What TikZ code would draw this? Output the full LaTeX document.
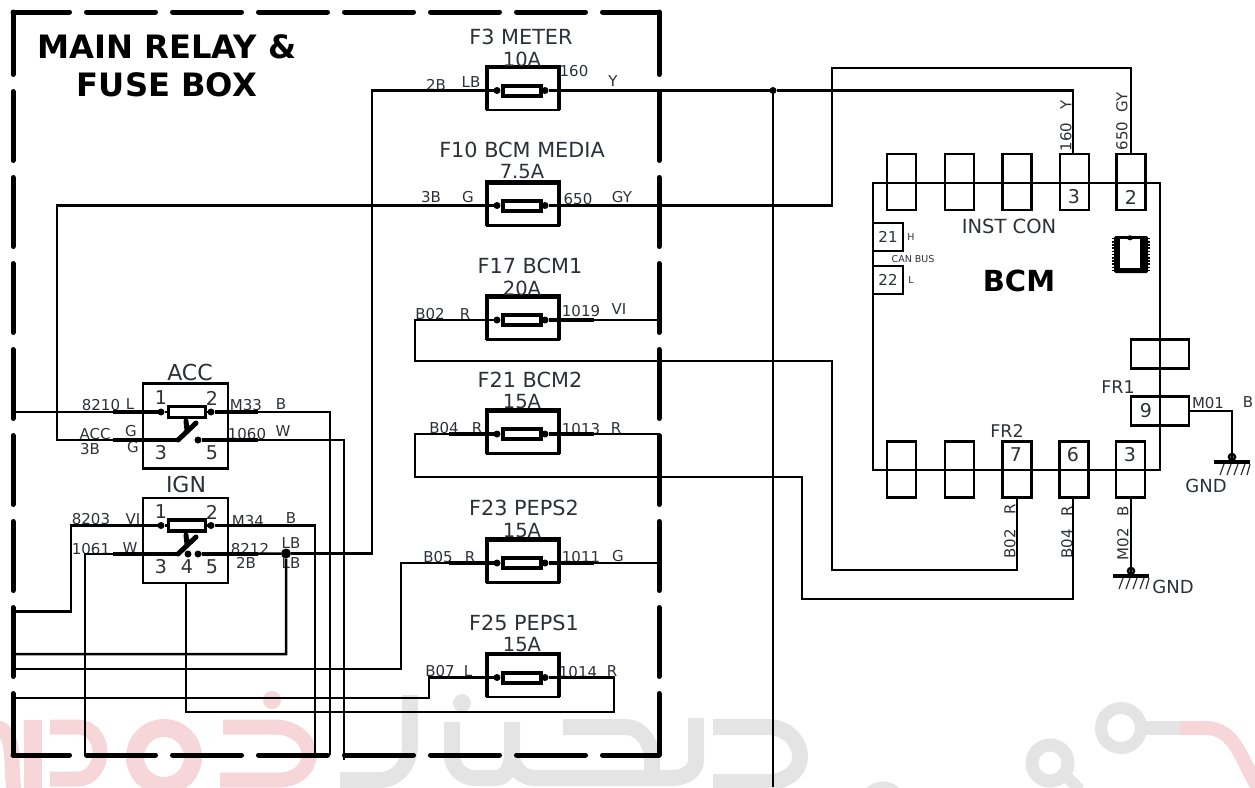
\documentclass[tikz,border=0pt]{standalone}
\usepackage{xcolor}
\usepackage{fontspec}
\setmainfont{DejaVu Sans}
\usetikzlibrary{arrows.meta, positioning, calc}
\definecolor{inkcolor}{RGB}{45, 48, 56}
\definecolor{markpink}{RGB}{246, 214, 217}
\definecolor{markgrey}{RGB}{228, 228, 228}

\begin{document}
\begin{tikzpicture}[
    x=1pt, y=-1pt,
    wire/.style={line width=2.5pt, line join=miter},
    stub/.style={line width=3.8pt},
    blade/.style={line width=5pt, line cap=round},
    borderline/.style={line width=5pt, dash pattern=on 69pt off 17pt, line cap=round},
    fusebox/.style={draw, line width=2.5pt, minimum width=72pt, minimum height=43pt, inner sep=0pt, outer sep=0pt},
    fuseedge/.style={line width=4.5pt},
    fuselink/.style={draw, line width=4pt, fill=white, minimum width=38pt, minimum height=10pt, inner sep=0pt, outer sep=0pt},
    relaybox/.style={draw, line width=2.5pt, minimum width=85pt, minimum height=85pt, inner sep=0pt, outer sep=0pt},
    relaylink/.style={draw, line width=3.5pt, fill=white, minimum width=37pt, minimum height=11pt, inner sep=0pt, outer sep=0pt},
    pin/.style={circle, fill=black, inner sep=0pt, minimum size=7pt, outer sep=0pt},
    tabbox/.style={draw, line width=2.5pt, minimum width=29pt, minimum height=56pt, inner sep=0pt, outer sep=0pt},
    sidetab/.style={draw, line width=2.5pt, minimum width=58pt, minimum height=29pt, inner sep=0pt, outer sep=0pt},
    smalltab/.style={draw, line width=2.5pt, minimum width=30pt, minimum height=28pt, inner sep=0pt, outer sep=0pt, text=inkcolor, font=\fontsize{15}{17}\selectfont},
    fusetitle/.style={text=inkcolor, inner sep=0pt, font=\fontsize{20.8}{24}\selectfont},
    ampere/.style={text=inkcolor, inner sep=0pt, font=\fontsize{19.5}{24}\selectfont},
    relaytitle/.style={text=inkcolor, inner sep=0pt, font=\fontsize{22}{24}\selectfont},
    digit/.style={text=inkcolor, inner sep=0pt, font=\fontsize{19}{22}\selectfont},
    tag/.style={text=inkcolor, inner sep=0pt, font=\fontsize{15}{17}\selectfont},
    sidetag/.style={tag, rotate=90},
    tiny tag/.style={text=inkcolor, inner sep=0pt, font=\fontsize{9.5}{11}\selectfont},
    heading/.style={inner sep=0pt, font=\bfseries\fontsize{32.2}{38}\selectfont},
    pinkmark/.style={markpink, line width=15pt},
    greymark/.style={markgrey, line width=16pt},
    gnd/.pic={
        \draw[line width=2.5pt] (0,-5) circle (3pt);
        \draw[line width=4pt] (-18,0) -- (18,0);
        \draw[line width=1.2pt, inkcolor] (-8,2) -- (-12,13) (-1,2) -- (-5,13) (6,2) -- (2,13) (13,2) -- (9,13) (18,2) -- (15,13);
    }
]
    \useasboundingbox (0,0) rectangle (1255,787);

    % Watermark
    \draw[pinkmark] (-8,727) to[out=0, in=100] (14,790);
    \draw[pinkmark, line width=18pt] (33,720) -- (33,790);
    \draw[pinkmark] (50,727) -- (78,727) to[out=0, in=90] (100,752) to[out=-90, in=0] (78,779) -- (50,779);
    \draw[pinkmark, line width=18pt] (164,757) circle (29pt);
    \draw[pinkmark] (223,727) -- (275,727) to[out=0, in=90] (309,755) to[out=-90, in=0] (280,780) -- (220,780);
    \fill[markpink] (272,700) circle (9pt);
    \draw[greymark] (340,780) -- (380,780) to[out=0, in=-90] (410,745) -- (410,695);
    \fill[markgrey] (462,703) circle (9pt);
    \draw[greymark] (452,722) -- (452,755) to[out=-90, in=180] (475,778) -- (495,778) to[out=0, in=-90] (512,755) -- (512,722);
    \draw[greymark] (512,755) to[out=-90, in=180] (535,778) -- (650,778);
    \draw[greymark] (563,727) -- (625,727) to[out=0, in=90] (652,760) -- (652,778);
    \draw[greymark] (696,718) -- (696,760) to[out=-90, in=0] (672,778) -- (650,778);
    \draw[greymark] (713,727) -- (768,727) to[out=0, in=90] (800,757) to[out=-90, in=0] (768,782) -- (713,782);
    \draw[greymark, line width=13pt] (883,806) circle (18pt);
    \draw[greymark, line width=13pt] (1050,763) circle (18pt);
    \draw[greymark, line width=12pt] (1068,778) -- (1080,790);
    \draw[greymark, line width=12pt] (1121,728) circle (20pt);
    \draw[greymark, line width=14pt] (1141,728) -- (1180,728);
    \draw[pinkmark, line width=14pt] (1180,728) -- (1205,728) to[out=0, in=125] (1260,790);

    % Fuse box border
    \coordinate (boxnw) at (13,12);
    \coordinate (boxne) at (659,12);
    \coordinate (boxsw) at (13,755);
    \coordinate (boxse) at (659,755);
    \draw[borderline, dash phase=12.5pt] (boxnw) -- (boxne);
    \draw[borderline, dash phase=12.5pt] (boxsw) -- (boxse);
    \draw[borderline, dash phase=6.5pt] (boxnw) -- (boxsw);
    \draw[borderline, dash phase=6.5pt] (boxne) -- (boxse);
    \node[heading] (boxtitle) at (167,47) {MAIN RELAY \&};
    \node[heading] (boxtitleb) at (167,85) {FUSE BOX};

    % Fuses
    \node[fusebox] (f3) at (523,88.5) {};
    \node[fusebox] (f10) at (523,204) {};
    \node[fusebox] (f17) at (523,318) {};
    \node[fusebox] (f21) at (523,432) {};
    \node[fusebox] (f23) at (523,561) {};
    \node[fusebox] (f25) at (523,675.5) {};
    \draw[fuseedge] (f3.south west) -- (f3.north west) -- (f3.north east) -- (f3.south east);
    \draw[fuseedge] (f10.south west) -- (f10.north west) -- (f10.north east) -- (f10.south east);
    \draw[fuseedge] (f17.south west) -- (f17.north west) -- (f17.north east) -- (f17.south east);
    \draw[fuseedge] (f21.south west) -- (f21.north west) -- (f21.north east) -- (f21.south east);
    \draw[fuseedge] (f23.south west) -- (f23.north west) -- (f23.north east) -- (f23.south east);
    \draw[fuseedge] (f25.south west) -- (f25.north west) -- (f25.north east) -- (f25.south east);
    \node[fuselink] (f3link) at (522,90.5) {};
    \node[fuselink] (f10link) at (522,205.5) {};
    \node[fuselink] (f17link) at (522,320) {};
    \node[fuselink] (f21link) at (522,434) {};
    \node[fuselink] (f23link) at (522,563) {};
    \node[fuselink] (f25link) at (522,677.5) {};
    \node[pin, left=2.5pt of f3link] (f3in) {};
    \node[pin, right=0.5pt of f3link] (f3out) {};
    \node[pin, left=2.5pt of f10link] (f10in) {};
    \node[pin, right=0.5pt of f10link] (f10out) {};
    \node[pin, left=2.5pt of f17link] (f17in) {};
    \node[pin, right=0.5pt of f17link] (f17out) {};
    \node[pin, left=2.5pt of f21link] (f21in) {};
    \node[pin, right=0.5pt of f21link] (f21out) {};
    \node[pin, left=2.5pt of f23link] (f23in) {};
    \node[pin, right=0.5pt of f23link] (f23out) {};
    \node[pin, left=2.5pt of f25link] (f25in) {};
    \node[pin, right=0.5pt of f25link] (f25out) {};

    % Fuse names
    \node[fusetitle] (f3name) at (521,37) {F3 METER};
    \node[ampere] (f3amp) at (522,59) {10A};
    \node[fusetitle] (f10name) at (522,150) {F10 BCM MEDIA};
    \node[ampere] (f10amp) at (522,172) {7.5A};
    \node[fusetitle] (f17name) at (530,266) {F17 BCM1};
    \node[ampere] (f17amp) at (522,288) {20A};
    \node[fusetitle] (f21name) at (530,380) {F21 BCM2};
    \node[ampere] (f21amp) at (522,402) {15A};
    \node[fusetitle] (f23name) at (524,508) {F23 PEPS2};
    \node[ampere] (f23amp) at (522,531) {15A};
    \node[fusetitle] (f25name) at (524,623) {F25 PEPS1};
    \node[ampere] (f25amp) at (522,645) {15A};

    % Wire tags at the fuses
    \node[tag] (t2b) at (436,85) {2B};
    \node[tag] (tlb) at (471,82) {LB};
    \node[tag] (t160) at (574,71) {160};
    \node[tag] (ty) at (613,81) {Y};
    \node[tag] (t3b) at (431,197) {3B};
    \node[tag] (tg) at (468,197) {G};
    \node[tag] (t650) at (578,199) {650};
    \node[tag] (tgy) at (622,197) {GY};
    \node[tag] (tb02) at (430,314) {B02};
    \node[tag] (tr) at (465,314) {R};
    \node[tag] (t1019) at (581,311) {1019};
    \node[tag] (tvi) at (619,309) {VI};
    \node[tag] (tb04) at (444,428) {B04};
    \node[tag] (trb) at (477,428) {R};
    \node[tag] (t1013) at (581,429) {1013};
    \node[tag] (trc) at (616,428) {R};
    \node[tag] (tb05) at (438,557) {B05};
    \node[tag] (trd) at (470,557) {R};
    \node[tag] (t1011) at (581,557) {1011};
    \node[tag] (tgb) at (618,556) {G};
    \node[tag] (tb07) at (440,671) {B07};
    \node[tag] (tl) at (468,671) {L};
    \node[tag] (t1014) at (578,672) {1014};
    \node[tag] (tre) at (612,671) {R};

    % Relays
    \node[relaybox] (acc) at (185.5,426) {};
    \node[relaybox] (ign) at (185.5,540.5) {};
    \node[relaytitle] (accname) at (190,372) {ACC};
    \node[relaytitle] (ignname) at (186,484) {IGN};
    \node[relaylink] (acclink) at (187,412) {};
    \node[relaylink] (ignlink) at (187,525.5) {};
    \node[pin] (acc1) at (161,412) {};
    \node[pin] (acc2) at (211,412) {};
    \node[pin] (acc5) at (198,440) {};
    \node[pin] (ign1) at (161,525.5) {};
    \node[pin] (ign2) at (211,525.5) {};
    \node[pin] (ign4) at (188,554) {};
    \node[pin] (ign5) at (198,554) {};
    \node[pin, minimum size=10pt] (ignjoint) at (286,553.5) {};
    \coordinate (acc3) at (178,440);
    \coordinate (ign3) at (178,554);
    \draw[blade] (acc3) -- (196,423) (186,421) -- (187,430);
    \draw[blade] (ign3) -- (196,537) (186,535) -- (187,544);
    \node[digit] (acc1d) at (161,398) {1};
    \node[digit] (acc2d) at (212,398) {2};
    \node[digit] (acc3d) at (161,453) {3};
    \node[digit] (acc5d) at (212,453) {5};
    \node[digit] (ign1d) at (161,512) {1};
    \node[digit] (ign2d) at (212,512) {2};
    \node[digit] (ign3d) at (161,567) {3};
    \node[digit] (ign4d) at (187,567) {4};
    \node[digit] (ign5d) at (212,567) {5};

    % Wire tags at the relays
    \node[tag] (t8210) at (101,405) {8210};
    \node[tag] (tlc) at (130,404) {L};
    \node[tag] (tm33) at (246,405) {M33};
    \node[tag] (tbb) at (281,404) {B};
    \node[tag] (tacc) at (95,434) {ACC};
    \node[tag] (tgc) at (131,431) {G};
    \node[tag] (t3bb) at (90,449) {3B};
    \node[tag] (tgd) at (133,447) {G};
    \node[tag] (t1060) at (247,434) {1060};
    \node[tag] (tw) at (283,431) {W};
    \node[tag] (t8203) at (91,519) {8203};
    \node[tag] (tvib) at (133,519) {VI};
    \node[tag] (tm34) at (248,521) {M34};
    \node[tag] (tbc) at (291,518) {B};
    \node[tag] (t1061) at (91,549) {1061};
    \node[tag] (twb) at (130,548) {W};
    \node[tag] (t8212) at (250,549) {8212};
    \node[tag] (tlbb) at (291,543) {LB};
    \node[tag] (t2bb) at (246,563) {2B};
    \node[tag] (tlbc) at (291,563) {LB};

    % BCM
    \node[draw, line width=2.5pt, minimum width=287pt, minimum height=287pt, inner sep=0pt] (bcm) at (1016.5,326.5) {};
    \node[inner sep=0pt, font=\bfseries\fontsize{29}{34}\selectfont] (bcmname) at (1019,281) {BCM};
    \node[fusetitle, font=\fontsize{19.5}{24}\selectfont] (instcon) at (1009,226) {INST CON};
    \node[tabbox] (top1) at (901.5,182) {};
    \node[tabbox] (top2) at (959.5,182) {};
    \node[tabbox] (top3) at (1017,182) {};
    \node[tabbox] (top4) at (1074.5,182) {};
    \node[tabbox] (top5) at (1131,182) {};
    \node[digit] (top4d) at (1074,197) {3};
    \node[digit] (top5d) at (1131,197) {2};
    \node[tabbox] (bot1) at (901.5,469.5) {};
    \node[tabbox] (bot2) at (959.5,469.5) {};
    \node[tabbox] (bot3) at (1017,469.5) {};
    \node[tabbox] (bot4) at (1074,469.5) {};
    \node[tabbox] (bot5) at (1130.5,469.5) {};
    \node[digit] (bot3d) at (1016,455) {7};
    \node[digit] (bot4d) at (1073,455) {6};
    \node[digit] (bot5d) at (1130,455) {3};
    \node[smalltab] (can21) at (888,237) {21};
    \node[smalltab] (can22) at (888,280) {22};
    \node[tiny tag] (canh) at (911,237) {H};
    \node[tiny tag] (canbus) at (913,259) {CAN BUS};
    \node[tiny tag] (canl) at (911,280) {L};
    \node[sidetab] (fr1a) at (1160,354) {};
    \node[sidetab] (fr1b) at (1160,411) {};
    \node[digit] (fr1d) at (1146,411) {9};
    \node[tag, font=\fontsize{17.5}{20}\selectfont] (fr1) at (1118,387) {FR1};
    \node[tag, font=\fontsize{17.5}{20}\selectfont] (fr2) at (1007,431) {FR2};

    % Chip mark
    \node[fill=black, minimum width=34pt, minimum height=37pt, inner sep=0pt, rounded corners=1.5pt] (chip) at (1131,254.5) {};
    \node[fill=white, minimum width=20pt, minimum height=29pt, inner sep=0pt] (chipwin) at (1130,253.5) {};
    \fill (chipwin.north) ++(0,-1) ellipse (3pt and 2.5pt);
    \draw[line width=2.5pt, dash pattern=on 1.6pt off 1.6pt] (chip.north west) ++(-1,2) -- ++(0,33) (chip.north east) ++(1,2) -- ++(0,33);

    % Tags at the BCM
    \node[sidetag] (s160) at (1066,137) {160};
    \node[sidetag] (sy) at (1066,105) {Y};
    \node[sidetag] (s650) at (1122,136) {650};
    \node[sidetag] (sgy) at (1122,102) {GY};
    \node[sidetag] (sb02) at (1010,544) {B02};
    \node[sidetag] (sr) at (1010,509) {R};
    \node[sidetag] (sb04) at (1067,544) {B04};
    \node[sidetag] (srb) at (1067,511) {R};
    \node[sidetag] (sm02) at (1123,544) {M02};
    \node[sidetag] (sb) at (1123,511) {B};
    \node[tag] (tm01) at (1208,403) {M01};
    \node[tag] (tbd) at (1248,402) {B};

    % Grounds
    \coordinate (gnda) at (1131,576);
    \coordinate (gndb) at (1232,462);
    \pic at (gnda) {gnd};
    \pic at (gndb) {gnd};
    \node[tag, font=\fontsize{18}{20}\selectfont] (gndatext) at (1173,587) {GND};
    \node[tag, font=\fontsize{18}{20}\selectfont] (gndbtext) at (1206,486) {GND};

    % Free ends
    \coordinate (lefta) at (15,412);
    \coordinate (leftb) at (15,611.5);
    \coordinate (leftc) at (15,654);
    \coordinate (leftd) at (15,669);
    \coordinate (lefte) at (15,698);
    \coordinate (rightf) at (659,320);
    \coordinate (rightg) at (659,434);
    \coordinate (righth) at (662,563);
    \coordinate (bota) at (85,755);
    \coordinate (botb) at (315,755);
    \coordinate (botc) at (330,755);
    \coordinate (botd) at (344,760);
    \coordinate (bote) at (773,787);
    \node[pin] (bus) at (773,90.5) {};

    % Wires of the fuses
    \draw[wire] (ignjoint) -- (372,553.5) -- (372,90.5) -- (f3in);
    \draw[wire] (f3out) -- (bus) -- (1073,90.5) -- (top4.north -| 1073,0);
    \draw[stub] (f3.east |- f3link) -- (bus);
    \draw[wire] (bus) -- (bote);
    \draw[wire] (f10in) -- (57,205.5) -- (57,440) -- (acc3);
    \draw[wire] (f10out) -- (832,205.5) -- (832,68) -- (1131,68) -- (top5.north);
    \draw[stub] (f10.east |- f10link) -- (832,205.5);
    \draw[wire] (f17in) -- (415,320) -- (415,361) -- (832,361) -- (832,570) -- (1017,570) -- (bot3.south);
    \draw[wire] (f17out) -- (rightf);
    \draw[wire] (f21in) -- (415,434) -- (415,477) -- (802,477) -- (802,599) -- (1073,599) -- (bot4.south -| 1073,0);
    \draw[wire] (f21out) -- (rightg);
    \draw[wire] (f23in) -- (401,563) -- (401,669) -- (leftd);
    \draw[wire] (f23out) -- (righth);
    \draw[wire] (f25in) -- (429,677.5) -- (429,698) -- (lefte);
    \draw[wire] (f25out) -- (614,677.5) -- (614,712) -- (186,712) -- (ign.south -| 186,0);
    \draw[stub] (449,677.5) -- (f25in);
    \draw[stub] (f25out) -- (594,677.5);
    \draw[stub] (449,563) -- (f23in);
    \draw[stub] (f23out) -- (594,563);
    \draw[stub] (449,434) -- (f21in);
    \draw[stub] (f21out) -- (594,434);
    \draw[stub] (f17out) -- (594,320);

    % Wires of the relays
    \draw[wire] (lefta) -- (acc1) -- (acclink);
    \draw[stub] (113,412) -- (acc1);
    \draw[wire] (acclink) -- (acc2) -- (330,412) -- (botc);
    \draw[stub] (acc2) -- (258,412);
    \draw[stub] (113,440) -- (acc3);
    \draw[wire] (acc5) -- (344,440) -- (botd);
    \draw[stub] (acc5) -- (258,440);
    \draw[wire] (leftb) -- (71,611.5) -- (71,525.5) -- (ign1) -- (ignlink);
    \draw[stub] (113,525.5) -- (ign1);
    \draw[wire] (ignlink) -- (ign2) -- (315,525.5) -- (botb);
    \draw[stub] (ign2) -- (258,525.5);
    \draw[wire] (bota) -- (85,554) -- (ign3);
    \draw[stub] (113,554) -- (ign3);
    \draw[stub] (ign5) -- (258,554);
    \draw[wire] (ign5) -- (ignjoint) -- (286,654) -- (leftc);

    % Wires of the BCM
    \draw[wire] (fr1b.east) -- (1232,411) -- (gndb);
    \draw[wire] (bot5.south -| gnda) -- (gnda);
\end{tikzpicture}
\end{document}
